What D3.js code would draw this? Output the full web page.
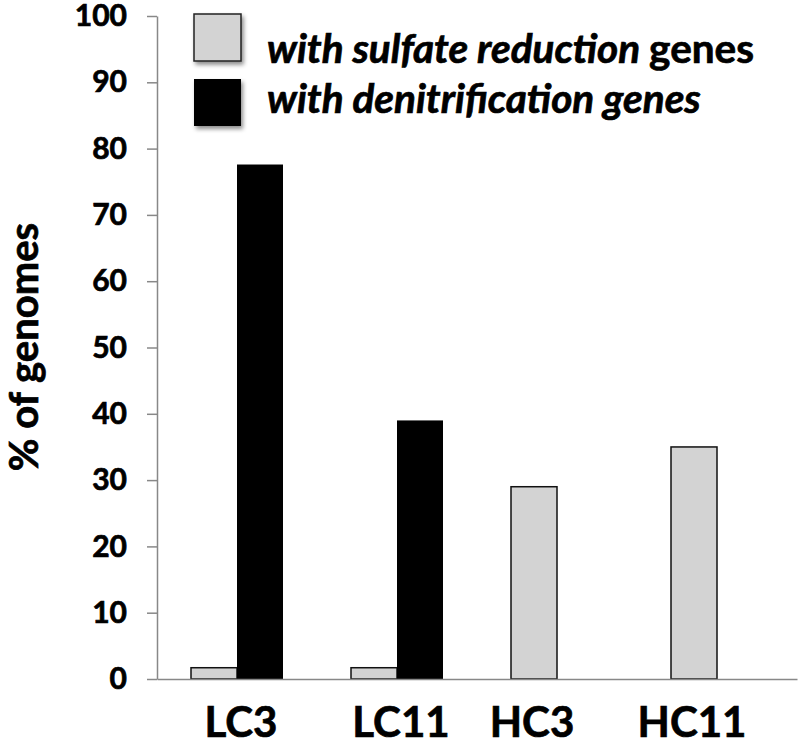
<!DOCTYPE html>
<html>
<head>
<meta charset="utf-8">
<script src="https://cdn.jsdelivr.net/npm/d3@7"></script>
<style>
    body { margin: 0; background: #fff; }
    svg { display: block; font-family: Lato, "Open Sans", sans-serif; font-weight: bold; }
    svg text { stroke: #000; stroke-width: 0.7px; }
</style>
</head>
<body>
<svg id="chart"></svg>
<script>
const categories = ["LC3", "LC11", "HC3", "HC11"]
const sulfateValues = [1.7, 1.7, 29, 35]
const denitrificationValues = [77.6, 39, null, null]
const yTicks = [0, 10, 20, 30, 40, 50, 60, 70, 80, 90, 100]

let width = 800
let height = 745
let margin =
    {
        top: 16,
        bottom: 66,
        left: 157,
        right: 3
    }

let container = d3.select("#chart")
    .attr("width", width)
    .attr("height", height)

let defs = container.append("defs")
defs.append("filter")
    .attr("id", "shadow")
    .attr("x", "-20%").attr("y", "-20%")
    .attr("width", "150%").attr("height", "150%")
    .append("feDropShadow")
    .attr("dx", 2)
    .attr("dy", 3)
    .attr("stdDeviation", 2)
    .attr("flood-color", "#000")
    .attr("flood-opacity", 0.45)

let xScale = d3
    .scaleBand()
    .domain(categories)
    .range([margin.left, width - margin.right])
    .paddingInner(0.425)
    .paddingOuter(0.2125)

let barWidth = xScale.bandwidth() / 2

let yScale = d3
    .scaleLinear()
    .domain([0, 100])
    .range([height - margin.bottom, margin.top])

// y axis
let yAxis = d3
    .axisLeft(yScale)
    .tickValues(yTicks)
    .tickSize(10)
    .tickSizeOuter(0)
    .tickPadding(20)

let yAxisG = container
    .append("g")
    .attr("transform", `translate(${margin.left},0)`)
    .call(yAxis)

yAxisG.select(".domain").attr("stroke", "#888").attr("stroke-width", 1.5)
yAxisG.selectAll(".tick line").attr("stroke", "#888").attr("stroke-width", 1.5)
yAxisG.selectAll(".tick text")
    .attr("fill", "#000")
    .style("font-size", "30px")
    .style("font-family", "Lato, sans-serif")
    .style("font-weight", "bold")

// bars
let rows = categories.map((c, i) => ({ cat: c, sulfate: sulfateValues[i], denit: denitrificationValues[i] }))

let body = container.append("g")

body.selectAll(".bar-sulfate")
    .data(rows)
    .enter()
    .append("rect")
    .attr("class", "bar-sulfate")
    .attr("x", d => xScale(d.cat))
    .attr("y", d => yScale(d.sulfate))
    .attr("width", barWidth)
    .attr("height", d => yScale(0) - yScale(d.sulfate))
    .attr("fill", "#d3d3d3")
    .attr("stroke", "#111")
    .attr("stroke-width", 1.5)

body.selectAll(".bar-denit")
    .data(rows.filter(d => d.denit != null))
    .enter()
    .append("rect")
    .attr("class", "bar-denit")
    .attr("x", d => xScale(d.cat) + barWidth)
    .attr("y", d => yScale(d.denit))
    .attr("width", barWidth)
    .attr("height", d => yScale(0) - yScale(d.denit))
    .attr("fill", "#000")

// x axis line
let xAxis = d3
    .axisBottom(xScale)
    .tickSize(0)
    .tickFormat("")

let xAxisG = container
    .append("g")
    .attr("transform", `translate(0,${yScale(0)})`)
    .call(xAxis)

xAxisG.select(".domain").attr("stroke", "#888").attr("stroke-width", 1.5)

// category labels: centred on group, or on the grey bar when there is no black bar
container.selectAll(".cat-label")
    .data(rows)
    .enter()
    .append("text")
    .attr("class", "cat-label")
    .attr("x", d => d.denit != null ? xScale(d.cat) + barWidth + 4 : xScale(d.cat) + barWidth / 2 - 2)
    .attr("y", 737)
    .attr("text-anchor", "middle")
    .style("font-size", "42px")
    .text(d => d.cat)

// y title
container.append("text")
    .attr("transform", `translate(38,347) rotate(-90)`)
    .attr("text-anchor", "middle")
    .style("font-size", "40px")
    .text("% of genomes")

// legend
let legend = container.append("g")

legend.append("rect")
    .attr("x", 194).attr("y", 14)
    .attr("width", 47).attr("height", 47)
    .attr("fill", "#d3d3d3")
    .attr("stroke", "#222")
    .attr("stroke-width", 1.5)
    .attr("filter", "url(#shadow)")

legend.append("rect")
    .attr("x", 194).attr("y", 79)
    .attr("width", 47).attr("height", 47)
    .attr("fill", "#000")
    .attr("filter", "url(#shadow)")

let line1 = legend.append("text")
    .attr("x", 267)
    .attr("y", 63)
    .style("font-size", "40.5px")

line1.append("tspan")
    .style("font-style", "italic")
    .text("with sulfate reduction ")

line1.append("tspan")
    .text("genes")

legend.append("text")
    .attr("x", 267)
    .attr("y", 113)
    .style("font-size", "40.5px")
    .style("font-style", "italic")
    .text("with denitrification genes")
</script>
</body>
</html>
